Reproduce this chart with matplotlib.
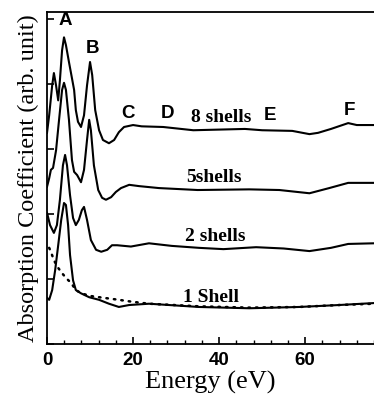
import matplotlib
matplotlib.use("Agg")
import matplotlib.pyplot as plt
from matplotlib.ticker import MultipleLocator, NullFormatter

# energies (eV) and absorption values (arb. unit, offset per curve)
e8 = [0, 0.5, 1.2, 1.6, 2.1, 2.6, 3.0, 3.5, 3.95, 4.4, 5.1, 5.8, 6.3, 6.7, 7.2, 7.9,
      8.6, 9.3, 10.0, 10.5, 11.2, 12.1, 13.0, 14.4, 15.6, 16.7, 17.9, 20, 22, 27, 34,
      40, 46, 50, 57, 61, 63, 66, 70, 72, 76]
y8 = [3.25, 3.52, 3.98, 4.17, 3.98, 3.75, 4.06, 4.52, 4.72, 4.60, 4.34, 4.09, 3.91,
      3.60, 3.42, 3.34, 3.52, 3.98, 4.34, 4.14, 3.60, 3.29, 3.14, 3.09, 3.14, 3.26,
      3.34, 3.37, 3.35, 3.34, 3.29, 3.30, 3.31, 3.29, 3.28, 3.23, 3.25, 3.31, 3.40,
      3.37, 3.37]

e5 = [0, 0.5, 0.9, 1.4, 2.1, 2.8, 3.5, 3.95, 4.4, 5.1, 5.8, 6.3, 7.0, 7.9, 8.6, 9.3,
      9.8, 10.2, 10.9, 11.9, 12.8, 13.7, 14.9, 16.0, 17.2, 19.1, 21.4, 26, 35, 47,
      54, 61, 65.6, 70, 76]
y5 = [2.42, 2.55, 2.68, 2.71, 2.98, 3.45, 3.91, 4.02, 3.91, 3.45, 2.83, 2.65, 2.60,
      2.49, 2.68, 3.14, 3.45, 3.29, 2.75, 2.37, 2.25, 2.22, 2.26, 2.34, 2.40, 2.45,
      2.43, 2.40, 2.37, 2.38, 2.37, 2.32, 2.40, 2.48, 2.48]

e2 = [0, 0.7, 1.6, 2.3, 3.0, 3.7, 4.2, 4.65, 5.35, 6.05, 6.7, 7.4, 8.1, 8.6, 9.3,
      10.2, 11.4, 12.6, 14.0, 15.1, 16.3, 19.5, 23.7, 29, 35.3, 41, 48.6, 55, 61,
      66, 70, 76]
y2 = [2.02, 1.83, 1.71, 1.83, 2.22, 2.75, 2.91, 2.75, 2.29, 1.94, 1.83, 1.91, 2.06,
      2.11, 1.91, 1.60, 1.45, 1.42, 1.45, 1.52, 1.52, 1.50, 1.55, 1.51, 1.48, 1.46,
      1.49, 1.47, 1.43, 1.48, 1.54, 1.55]

e1 = [0, 0.5, 1.2, 1.9, 2.6, 3.3, 3.95, 4.4, 4.9, 5.35, 6.05, 6.7, 7.9, 9.8, 12.1,
      14.4, 16.7, 19.1, 23.7, 35.3, 47, 58.6, 67.9, 76]
y1 = [0.71, 0.68, 0.83, 1.14, 1.52, 1.91, 2.17, 2.14, 1.83, 1.37, 0.98, 0.83, 0.78,
      0.72, 0.68, 0.62, 0.57, 0.60, 0.62, 0.57, 0.55, 0.57, 0.60, 0.63]

# dotted reference curve under the 1-shell spectrum
e_dot = [0.5, 0.9, 1.6, 2.5, 3.5, 4.5, 5.6, 6.7, 8.0, 10.0, 12.1, 14.4, 16.7, 19.8,
         23.7, 35.3, 47, 58.6, 67.9, 76]
y_dot = [1.48, 1.42, 1.29, 1.18, 1.09, 1.01, 0.94, 0.83, 0.78, 0.74, 0.72, 0.70,
         0.68, 0.65, 0.62, 0.58, 0.56, 0.57, 0.60, 0.62]

peak_letters = ["A", "B", "C", "D", "E", "F"]
peak_x = [4.2, 10.5, 18.8, 27.9, 51.9, 70.2]
peak_y = [4.98, 4.55, 3.55, 3.55, 3.52, 3.60]

curve_names = ["8 shells", "5shells", "2 shells", "1 Shell"]
name_x = [40.5, 38.8, 39.0, 38.1]
name_y = [3.49, 2.57, 1.65, 0.72]

fig = plt.figure(figsize=(3.74, 3.97), dpi=100)
ax = fig.add_axes([0.1257, 0.1335, 0.8743, 0.8363])

for e, y in [(e8, y8), (e5, y5), (e2, y2), (e1, y1)]:
    ax.plot(e, y, color="black", lw=1.5, solid_joinstyle="round")
ax.plot(e_dot, y_dot, color="black", lw=1.8, ls=(0, (0.6, 2.4)), dash_capstyle="round")

for t, x, y in zip(peak_letters, peak_x, peak_y):
    ax.text(x, y, t, ha="center", va="center", fontsize=13.5, fontweight="bold",
            family="Liberation Sans")
for t, x, y in zip(curve_names, name_x, name_y):
    ax.text(x, y, t, ha="center", va="center", fontsize=14, fontweight="bold",
            family="Liberation Serif")

ax.set_xlim(0, 76)
ax.set_ylim(0, 5.11)
ax.spines["right"].set_visible(False)
for s in ["left", "bottom", "top"]:
    ax.spines[s].set_linewidth(1.3)

ax.xaxis.set_major_locator(MultipleLocator(20))
ax.xaxis.set_minor_locator(MultipleLocator(4))
ax.yaxis.set_major_locator(MultipleLocator(1))
ax.yaxis.set_major_formatter(NullFormatter())
ax.tick_params(axis="both", which="major", direction="in", length=5, width=1.2)
ax.tick_params(axis="x", which="minor", direction="in", length=3, width=1.0)
ax.tick_params(axis="x", labelsize=13.5, pad=6)
for lab in ax.get_xticklabels():
    lab.set_family("Liberation Sans")
    lab.set_fontweight("bold")

ax.set_xlabel("Energy (eV)", family="Liberation Serif", fontsize=19, labelpad=1)
ax.set_ylabel("Absorption Coefficient (arb. unit)", family="Liberation Serif",
              fontsize=17.5, labelpad=2)

fig.savefig("out.png", dpi=100)
